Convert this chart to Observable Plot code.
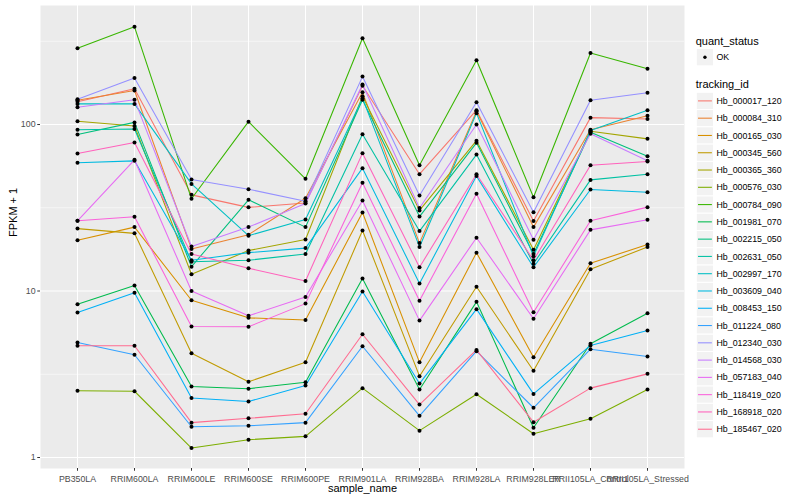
<!DOCTYPE html>
<html><head><meta charset="utf-8">
<script src="https://cdn.jsdelivr.net/npm/d3@7"></script>
<script src="https://cdn.jsdelivr.net/npm/@observablehq/plot@0.6"></script>
<style>
html,body{margin:0;padding:0;background:#fff;}
#wrap{position:relative;width:800px;height:500px;font-family:"Liberation Sans",Arial,sans-serif;}
#legend{position:absolute;left:0;top:0;pointer-events:none;}
</style></head><body><div id="wrap"></div>
<script>
const samples = ["PB350LA","RRIM600LA","RRIM600LE","RRIM600SE","RRIM600PE","RRIM901LA","RRIM928BA","RRIM928LA","RRIM928LER","RRII105LA_Control","RRII105LA_Stressed"];
const trackingIds = ["Hb_000017_120","Hb_000084_310","Hb_000165_030","Hb_000345_560","Hb_000365_360","Hb_000576_030","Hb_000784_090","Hb_001981_070","Hb_002215_050","Hb_002631_050","Hb_002997_170","Hb_003609_040","Hb_008453_150","Hb_011224_080","Hb_012340_030","Hb_014568_030","Hb_057183_040","Hb_118419_020","Hb_168918_020","Hb_185467_020"];
const lineColors = ["#F8766D","#EA8331","#D89000","#C09B00","#A3A500","#7CAE00","#39B600","#00BB4E","#00BF7D","#00C1A3","#00BFC4","#00BAE0","#00B0F6","#35A2FF","#9590FF","#C77CFF","#E76BF3","#FA62DB","#FF62BC","#FF6C91"];
const yTicks = [1, 10, 100];
const yMinor = [3.1623, 31.623, 316.23];
const quantStatus = ["OK"];

// FPKM + 1, one array per tracking_id, in sample order
const hb_000017_120 = [137, 164, 37.8, 31.8, 33.8, 171, 50.3, 122, 26.3, 110, 108];
const hb_000084_310 = [140, 160, 17.9, 21.8, 36.1, 156, 19.4, 120, 24.2, 93, 113];
const hb_000165_030 = [20.2, 24.2, 8.8, 6.9, 6.7, 29.6, 3.73, 17.0, 4.0, 14.7, 19.0];
const hb_000345_560 = [23.7, 22.2, 4.23, 2.85, 3.73, 23.1, 3.08, 10.6, 3.32, 13.5, 18.4];
const hb_000365_360 = [104.7, 98, 12.6, 17.5, 20.4, 148, 30.5, 80, 17.7, 91, 82];
const hb_000576_030 = [2.52, 2.50, 1.14, 1.28, 1.34, 2.61, 1.45, 2.40, 1.39, 1.71, 2.56];
const hb_000784_090 = [287, 386, 35.8, 104, 47.2, 330, 57, 243, 36.6, 269, 216];
const hb_001981_070 = [8.33, 10.8, 2.67, 2.59, 2.83, 11.9, 2.56, 8.61, 1.51, 4.82, 7.36];
const hb_002215_050 = [87, 103, 14.0, 35.3, 24.2, 141, 28.0, 77.6, 16.7, 90, 64.5];
const hb_002631_050 = [93, 94, 15.0, 15.3, 16.7, 87.5, 22.9, 66, 14.6, 46.5, 50.3];
const hb_002997_170 = [133, 133, 44.0, 21.5, 26.9, 144, 18.4, 117, 16.2, 92, 122];
const hb_003609_040 = [58.9, 60.5, 15.3, 17.0, 18.1, 54.7, 11.1, 49, 13.9, 40.7, 39.2];
const hb_008453_150 = [7.43, 9.75, 2.28, 2.17, 2.71, 9.93, 2.78, 7.78, 2.41, 4.71, 5.79];
const hb_011224_080 = [4.91, 4.14, 1.53, 1.55, 1.62, 4.66, 1.78, 4.35, 1.99, 4.47, 4.04];
const hb_012340_030 = [142, 190, 46.7, 40.9, 34.6, 194, 37.5, 136, 29.7, 140, 155];
const hb_014568_030 = [127, 141, 18.5, 24.2, 33.5, 174, 31.5, 100, 20.3, 88, 60.5];
const hb_057183_040 = [26.4, 61.4, 10.0, 7.1, 9.2, 35.0, 6.64, 20.9, 6.81, 23.3, 26.8];
const hb_118419_020 = [26.4, 27.9, 6.12, 6.1, 8.4, 44.7, 8.75, 38.4, 7.46, 26.4, 31.9];
const hb_168918_020 = [67, 78, 16.7, 13.7, 11.5, 67.3, 13.9, 50.3, 15.3, 57, 60];
const hb_185467_020 = [4.69, 4.69, 1.62, 1.72, 1.83, 5.50, 2.08, 4.43, 1.63, 2.61, 3.18];

const seriesValues = [hb_000017_120, hb_000084_310, hb_000165_030, hb_000345_560, hb_000365_360, hb_000576_030, hb_000784_090, hb_001981_070, hb_002215_050, hb_002631_050, hb_002997_170, hb_003609_040, hb_008453_150, hb_011224_080, hb_012340_030, hb_014568_030, hb_057183_040, hb_118419_020, hb_168918_020, hb_185467_020];

const rows = [];
trackingIds.forEach((id, i) => {
  samples.forEach((s, j) => rows.push({tracking_id: id, sample_name: s, value: seriesValues[i][j], quant_status: "OK"}));
});

const W = 800, H = 500;
const mL = 40, mR = 116, mT = 5, mB = 32;
const font = '"Liberation Sans", Arial, sans-serif';

const chart = Plot.plot({
  width: W, height: H,
  marginLeft: mL, marginRight: mR, marginTop: mT, marginBottom: mB,
  style: {fontFamily: font, fontSize: "8.8px", background: "white", color: "black", overflow: "visible"},
  x: {type: "point", domain: samples, padding: 0.6, label: null},
  y: {type: "log", domain: [0.859, 518.6], label: null},
  color: {domain: trackingIds, range: lineColors},
  marks: [
    Plot.frame({fill: "#EBEBEB", stroke: null}),
    Plot.gridY(yMinor, {stroke: "white", strokeOpacity: 1, strokeWidth: 0.53}),
    Plot.gridY(yTicks, {stroke: "white", strokeOpacity: 1, strokeWidth: 1.07}),
    Plot.gridX(samples, {stroke: "white", strokeOpacity: 1, strokeWidth: 1.07}),
    Plot.line(rows, {x: "sample_name", y: "value", z: "tracking_id", stroke: "tracking_id", strokeWidth: 1.07}),
    Plot.dot(rows, {x: "sample_name", y: "value", fill: "black", r: 2}),
    Plot.axisY(yTicks, {tickSize: 2.75, tickPadding: 2.2, tickFormat: d => String(d), fontSize: 8.8, label: null, stroke: "#333333", fill: "#4D4D4D"}),
    Plot.axisX(samples, {tickSize: 2.75, tickPadding: 4, fontSize: 8.8, label: null, stroke: "#333333", fill: "#4D4D4D"}),
    Plot.text(["sample_name"], {frameAnchor: "bottom", dy: 23, lineAnchor: "bottom", text: d => d, fontSize: 11, fill: "black"}),
    Plot.text(["FPKM + 1"], {frameAnchor: "left", dx: -23.3, rotate: -90, lineAnchor: "bottom", text: d => d, fontSize: 11, fill: "black"})
  ]
});

const wrap = document.getElementById("wrap");
wrap.appendChild(chart);

// legend
const lg = d3.select(wrap).append("svg").attr("id", "legend").attr("width", W).attr("height", H)
  .style("font-family", font);
const lx = 695.7, keyX = 696.3, key = 17.28;
lg.append("text").attr("x", lx).attr("y", 44.5).attr("font-size", 11).attr("fill", "black").text("quant_status");
quantStatus.forEach((q, i) => {
  const cy = 57.2 + i * key;
  lg.append("rect").attr("x", keyX).attr("y", cy - key / 2).attr("width", key).attr("height", key).attr("fill", "#F2F2F2").attr("stroke", "white").attr("stroke-width", 1);
  lg.append("circle").attr("cx", keyX + key / 2).attr("cy", cy).attr("r", 1.7).attr("fill", "black");
  lg.append("text").attr("x", 716.5).attr("y", cy).attr("dy", "0.35em").attr("font-size", 8.8).attr("fill", "black").text(q);
});
lg.append("text").attr("x", lx).attr("y", 87.8).attr("font-size", 11).attr("fill", "black").text("tracking_id");
trackingIds.forEach((id, i) => {
  const cy = 100.9 + i * key;
  lg.append("rect").attr("x", keyX).attr("y", cy - key / 2).attr("width", key).attr("height", key).attr("fill", "#F2F2F2").attr("stroke", "white").attr("stroke-width", 1);
  lg.append("line").attr("x1", keyX + 1.7).attr("x2", keyX + key - 1.7).attr("y1", cy).attr("y2", cy).attr("stroke", lineColors[i]).attr("stroke-width", 1.07);
  lg.append("text").attr("x", 716.5).attr("y", cy).attr("dy", "0.35em").attr("font-size", 8.8).attr("fill", "black").text(id);
});
</script></body></html>
